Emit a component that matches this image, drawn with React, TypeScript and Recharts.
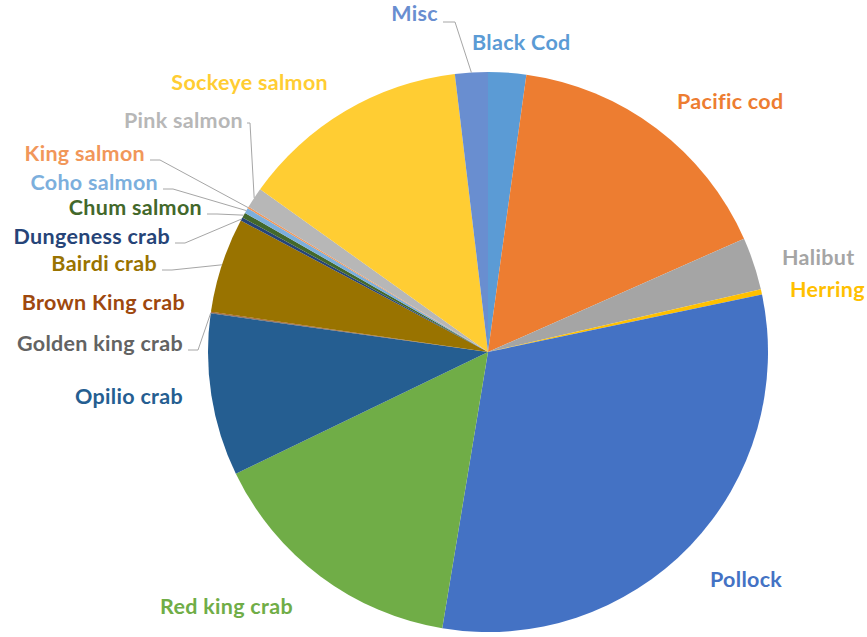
import React from "react";
import { PieChart, Pie, Cell } from "recharts";

const species = [
  "Black Cod", "Pacific cod", "Halibut", "Herring", "Pollock", "Red king crab",
  "Opilio crab", "Golden king crab", "Brown King crab", "Bairdi crab",
  "Dungeness crab", "Chum salmon", "Coho salmon", "King salmon",
  "Pink salmon", "Sockeye salmon", "Misc",
];
const shares = [
  2.2, 16.25, 3.05, 0.3, 31.05, 15.3, 9.4, 0.05, 0.05, 5.5,
  0.2, 0.3, 0.3, 0.1, 1.2, 13.3, 1.9,
];
const colors = [
  "#5B9BD5", "#ED7D31", "#A5A5A5", "#FFC000", "#4472C4", "#70AD47",
  "#255E91", "#636363", "#9E480E", "#997300",
  "#264478", "#43682B", "#7CAFDD", "#F1975A",
  "#B7B7B7", "#FFCD33", "#698ED0",
];

const data = species.map((name, i) => ({ name, value: shares[i] }));

// label placement: [x, centerY, anchor, leader?]
const labelPlacement: Record<string, [number, number, "start" | "end", boolean]> = {
  "Misc": [438, 13, "end", true],
  "Black Cod": [472, 42, "start", false],
  "Pacific cod": [677, 101, "start", false],
  "Halibut": [782, 257, "start", false],
  "Herring": [790, 289, "start", false],
  "Pollock": [710, 579, "start", false],
  "Red king crab": [160, 606, "start", false],
  "Opilio crab": [183, 396, "end", false],
  "Golden king crab": [183, 343, "end", true],
  "Brown King crab": [185, 302, "end", false],
  "Bairdi crab": [157, 263, "end", true],
  "Dungeness crab": [170, 236, "end", true],
  "Chum salmon": [202, 207, "end", true],
  "Coho salmon": [158, 182, "end", true],
  "King salmon": [145, 153, "end", true],
  "Pink salmon": [243, 120, "end", true],
  "Sockeye salmon": [328, 82, "end", false],
};

const RAD = Math.PI / 180;

const renderLabel = (props: any) => {
  const { cx, cy, midAngle, outerRadius, name, index } = props;
  const p = labelPlacement[name];
  if (!p) return null;
  const [x, y, anchor, leader] = p;
  const color = colors[index];
  const px = cx + outerRadius * Math.cos(-midAngle * RAD);
  const py = cy + outerRadius * Math.sin(-midAngle * RAD);
  let line = null;
  if (leader) {
    let pts: string;
    if (name === "Pink salmon") {
      pts = `${x + 4},${y + 3} ${x + 7},${y + 3} ${px},${py}`;
    } else if (name === "Misc") {
      pts = `${x + 5},${y + 9} ${x + 17},${y + 9} ${px},${py}`;
    } else {
      pts = `${x + 5},${y + 7} ${x + 15},${y + 7} ${px},${py}`;
    }
    line = <polyline points={pts} fill="none" stroke="#A6A6A6" strokeWidth={1} />;
  }
  return (
    <g key={`lbl-${index}`}>
      {line}
      <text
        x={x}
        y={y}
        textAnchor={anchor}
        dominantBaseline="central"
        fill={color}
        fontFamily="Lato, 'Open Sans', sans-serif"
        fontWeight={700}
        fontSize={21.5}
        letterSpacing={0.3}
      >
        {name}
      </text>
    </g>
  );
};

export default function App() {
  return (
    <div style={{ position: "absolute", left: 0, top: 0, width: 867, height: 637, background: "#fff" }}>
      <PieChart width={867} height={637} margin={{ top: 0, right: 0, bottom: 0, left: 0 }}>
        <Pie
          data={data}
          dataKey="value"
          nameKey="name"
          cx={488}
          cy={352}
          outerRadius={280}
          startAngle={90}
          endAngle={-270}
          stroke="none"
          label={renderLabel}
          labelLine={false}
          isAnimationActive={false}
        >
          {data.map((d, i) => (
            <Cell key={d.name} fill={colors[i]} />
          ))}
        </Pie>
      </PieChart>
    </div>
  );
}
